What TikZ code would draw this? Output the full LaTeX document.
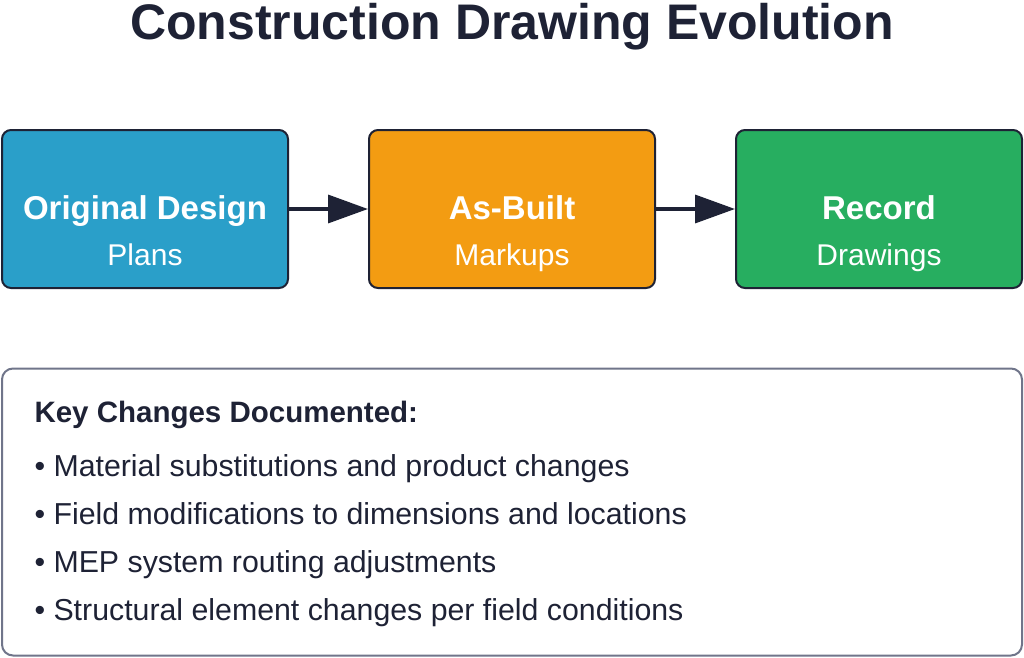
\documentclass[tikz,border=0pt]{standalone}
\usepackage{fontspec}
\setmainfont{Liberation Sans}
\usetikzlibrary{arrows.meta}
\definecolor{ink}{HTML}{1E2235}
\definecolor{cblue}{HTML}{2A9FC9}
\definecolor{corange}{HTML}{F39C12}
\definecolor{cgreen}{HTML}{27AE60}
\definecolor{cgray}{HTML}{70758A}
\begin{document}
\begin{tikzpicture}[x=1pt,y=-1pt,
  stage/.style={draw=ink,line width=2pt,rounded corners=9pt,minimum width=286pt,minimum height=158pt},
  head/.style={anchor=base,text=white,font=\fontsize{33}{40}\selectfont\bfseries},
  sub/.style={anchor=base,text=white,font=\fontsize{30}{36}\selectfont},
  conn/.style={draw=ink,line width=3.5pt,-{Triangle[length=40pt,width=28pt]}},
  item/.style={anchor=base west,font=\fontsize{30.3}{36}\selectfont,text=ink}]
\useasboundingbox (0,0) rectangle (1024,657);
\node[anchor=base,font=\fontsize{50}{60}\selectfont\bfseries,text=ink] (title) at (512,39) {Construction Drawing Evolution};
\node[stage,fill=cblue] (a) at (145,209) {};
\node[stage,fill=corange] (b) at (512,209) {};
\node[stage,fill=cgreen] (c) at (879,209) {};
\node[head] (ah) at (145,219) {Original Design};
\node[sub] (as) at (145,265) {Plans};
\node[head] (bh) at (512,219) {As-Built};
\node[sub] (bs) at (512,265) {Markups};
\node[head] (ch) at (879,219) {Record};
\node[sub] (cs) at (879,265) {Drawings};
\draw[conn] (a) -- (b);
\draw[conn] (b) -- (c);
\node[draw=cgray,line width=2pt,fill=white,rounded corners=11pt,minimum width=1020pt,minimum height=287pt] (panel) at (512,512) {};
\node[item,font=\fontsize{29.5}{35}\selectfont\bfseries] (h) at (31,422) {Key Changes Documented:};
\node[item] (i1) at (31,476) {• Material substitutions and product changes};
\node[item] (i2) at (31,524) {• Field modifications to dimensions and locations};
\node[item] (i3) at (31,572) {• MEP system routing adjustments};
\node[item] (i4) at (31,620) {• Structural element changes per field conditions};
\end{tikzpicture}
\end{document}
